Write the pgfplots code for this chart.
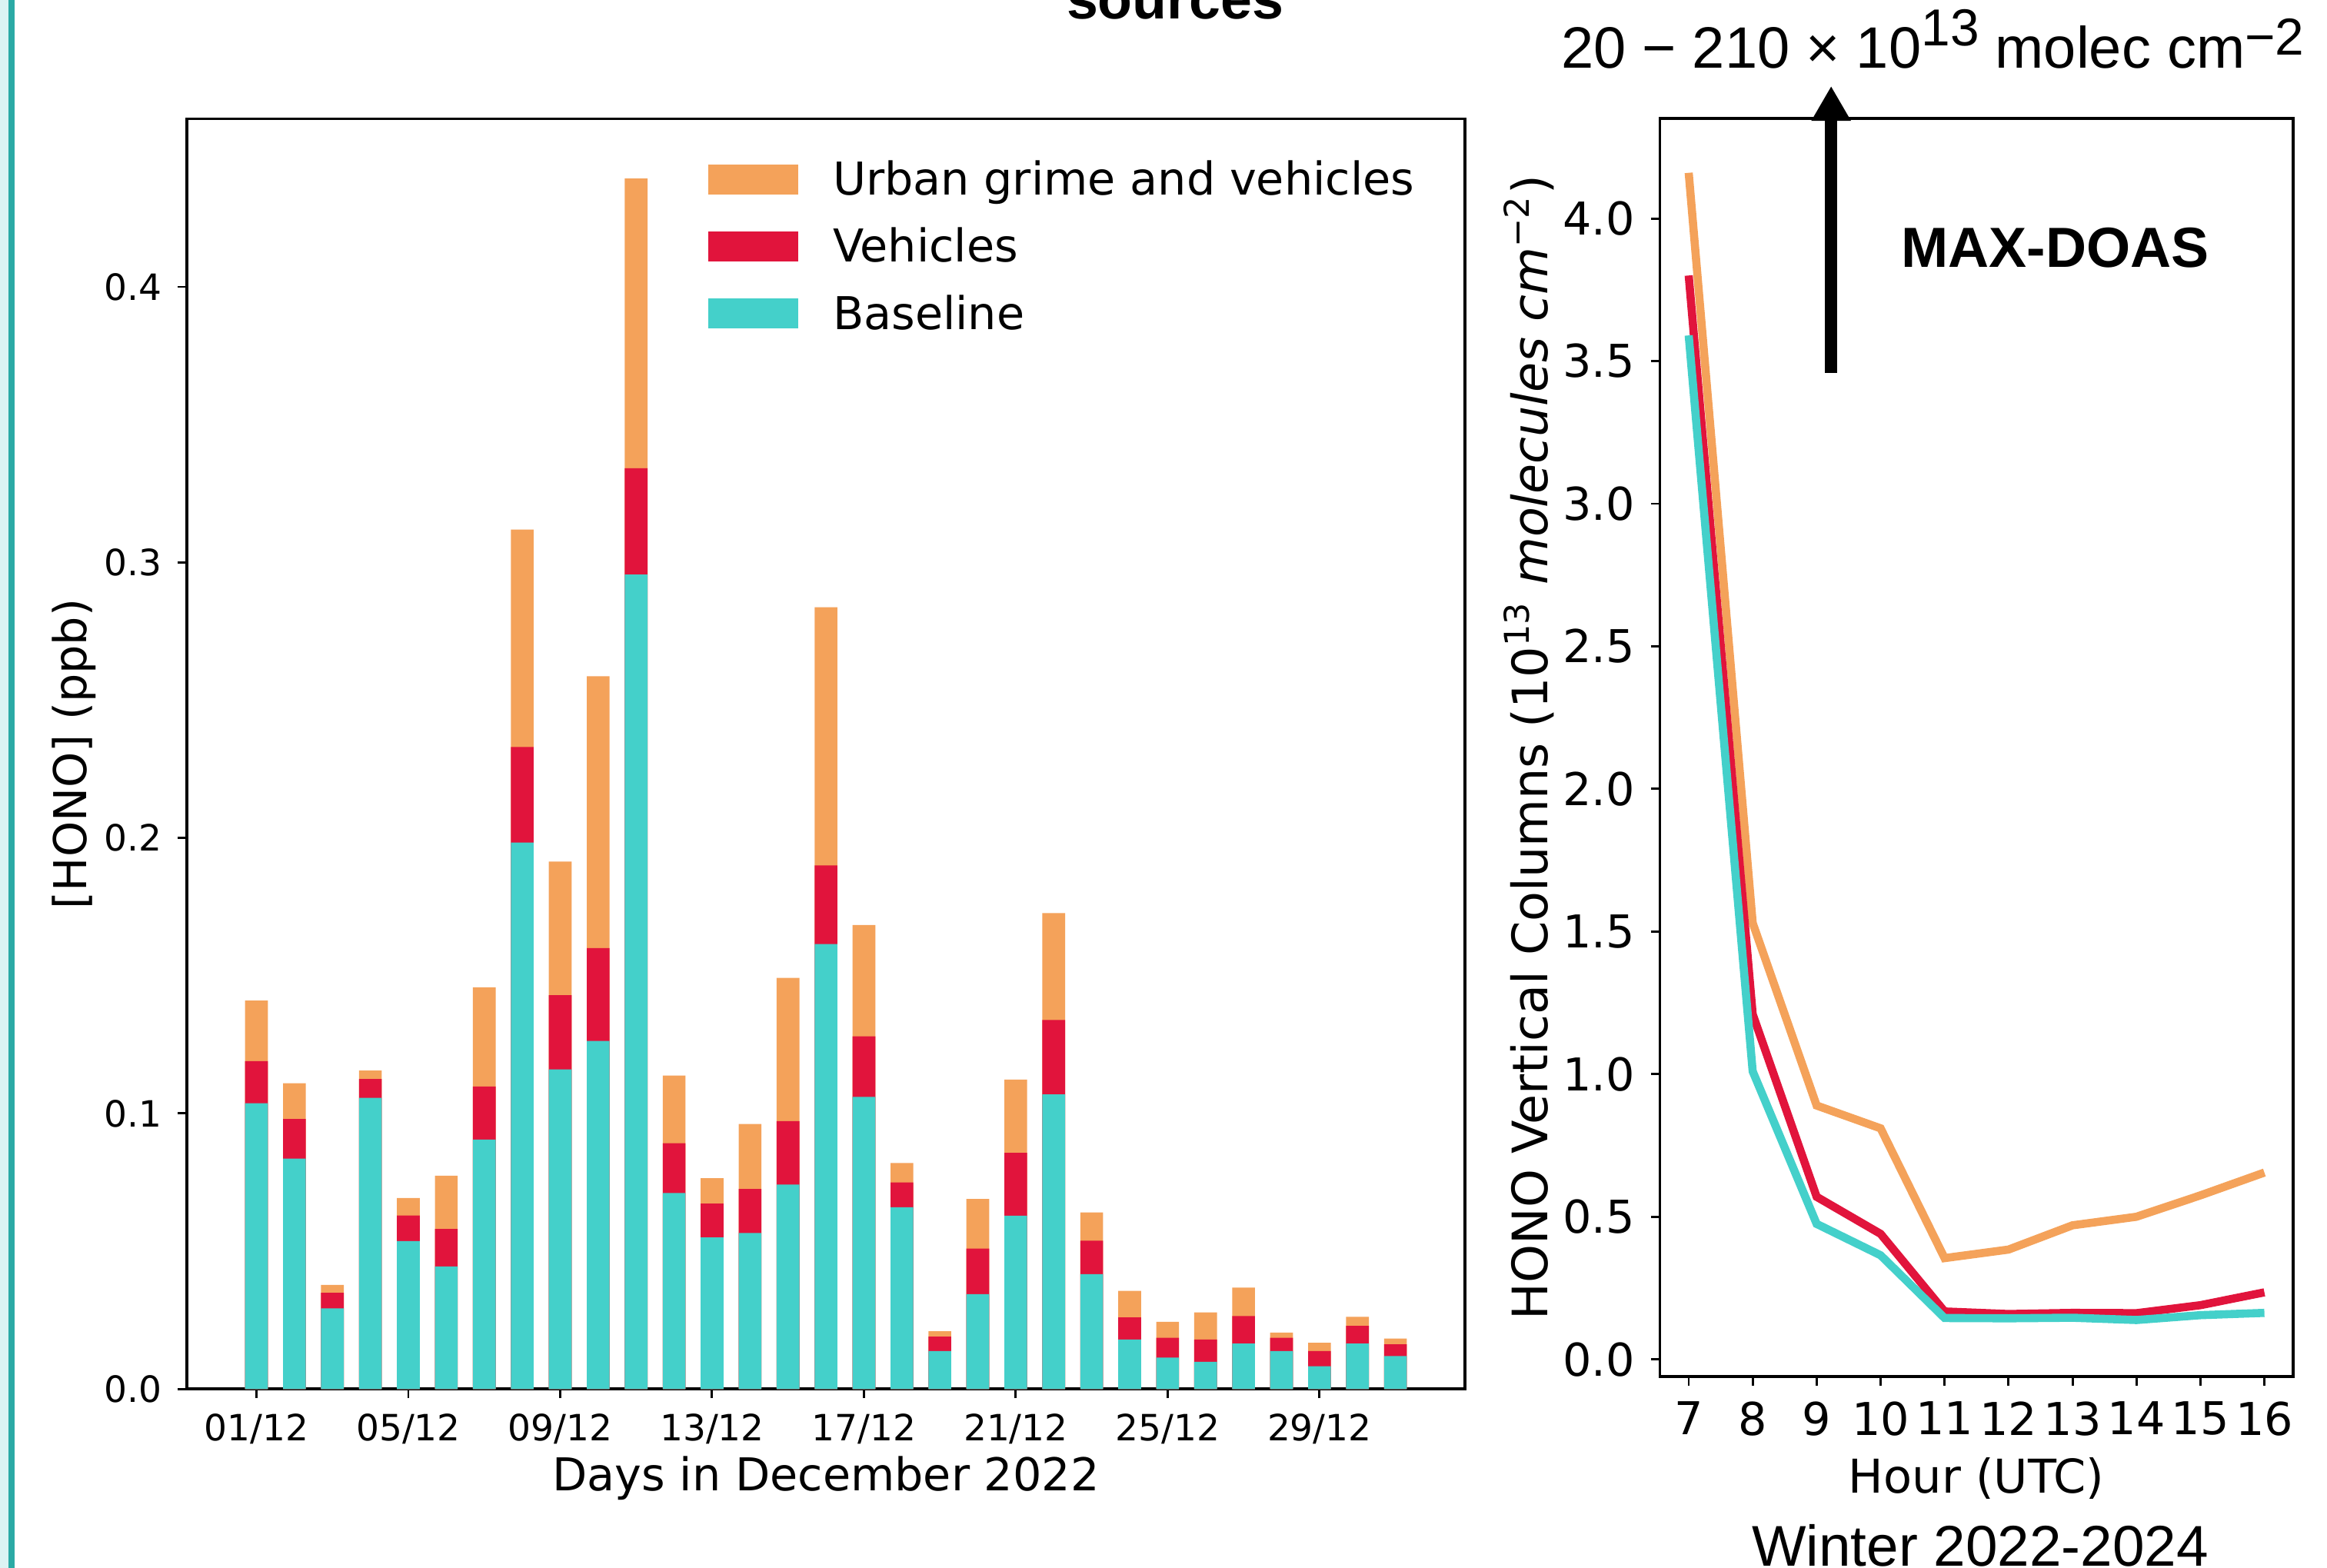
\documentclass[border=0pt]{standalone}
\usepackage{pgfplots}
\pgfplotsset{compat=1.18}
\usepackage{pgfplotstable}
\usepackage{fontspec}
\setmainfont{DejaVu Sans}
\newfontfamily\arialf{Liberation Sans}
\usetikzlibrary{arrows.meta}
\definecolor{cOr}{RGB}{244,162,90}
\definecolor{cRe}{RGB}{225,20,60}
\definecolor{cTe}{RGB}{68,208,202}
\definecolor{edgeL}{RGB}{220,243,243}
\definecolor{edgeD}{RGB}{43,170,165}

\pgfplotstableread{
day urban veh base
1 0.1410 0.1190 0.1037
2 0.1110 0.0980 0.0836
3 0.0378 0.0349 0.0293
4 0.1156 0.1125 0.1057
5 0.0693 0.0630 0.0537
6 0.0774 0.0581 0.0445
7 0.1458 0.1098 0.0905
8 0.3119 0.2330 0.1983
9 0.1914 0.1429 0.1160
10 0.2587 0.1600 0.1263
11 0.4393 0.3342 0.2956
12 0.1138 0.0892 0.0711
13 0.0765 0.0673 0.0550
14 0.0962 0.0726 0.0566
15 0.1492 0.0972 0.0742
16 0.2837 0.1900 0.1615
17 0.1684 0.1280 0.1060
18 0.0820 0.0750 0.0660
19 0.0210 0.0190 0.0138
20 0.0690 0.0510 0.0344
21 0.1123 0.0857 0.0629
22 0.1727 0.1339 0.1069
23 0.0641 0.0538 0.0417
24 0.0356 0.0260 0.0180
25 0.0244 0.0186 0.0114
26 0.0278 0.0180 0.0099
27 0.0368 0.0265 0.0165
28 0.0205 0.0186 0.0138
29 0.0168 0.0138 0.0083
30 0.0262 0.0229 0.0165
31 0.0183 0.0162 0.0120
}\bars

\pgfplotstableread{
hour urban veh base
7 4.16 3.80 3.59
8 1.53 1.21 1.01
9 0.89 0.57 0.475
10 0.81 0.44 0.365
11 0.355 0.168 0.145
12 0.385 0.159 0.144
13 0.47 0.163 0.146
14 0.50 0.162 0.138
15 0.575 0.19 0.155
16 0.655 0.235 0.163
}\lines

\pgfplotsset{
  mybar/.style={ybar, bar width=0.6, bar shift=0pt, draw=none,
    legend image code/.code={\fill (0pt,-3.3pt) rectangle (20pt,3.3pt);}},
}

\begin{document}
\begin{tikzpicture}
\path[use as bounding box] (0,0) rectangle (514.42pt,346.63pt);
\clip (0,0) rectangle (514.42pt,346.63pt);
\fill[edgeL] (0,0) rectangle (1.87pt,346.63pt);
\fill[edgeD] (1.87pt,0) rectangle (3.23pt,346.63pt);

\begin{axis}[
  at={(41.34pt,39.56pt)}, anchor=south west,
  scale only axis, width=282.5pt, height=280.8pt,
  xmin=-0.83, xmax=32.83, ymin=0, ymax=0.461,
  xtick={1,5,9,13,17,21,25,29},
  xticklabels={01/12,05/12,09/12,13/12,17/12,21/12,25/12,29/12},
  ytick={0,0.1,0.2,0.3,0.4},
  yticklabel style={/pgf/number format/.cd, fixed, fixed zerofill, precision=1},
  /pgf/number format/assume math mode=true,
  tick align=outside, major tick length=2pt,
  xtick pos=bottom, ytick pos=left,
  tick style={black, line width=0.5pt},
  ticklabel style={font=\fontsize{8}{9.6}\selectfont},
  axis line style={line width=0.6pt},
  xlabel={Days in December 2022}, ylabel={{[}HONO] (ppb)},
  label style={font=\fontsize{10}{12}\selectfont},
  xlabel style={at={(axis description cs:0.5,-0.0799)}, anchor=base},
  ylabel style={at={(axis description cs:-0.0881,0.5)}, anchor=center},
  legend cell align=left,
  legend style={draw=none, fill=none, inner sep=0pt,
    at={(0.407,0.969)}, anchor=north west,
    font=\fontsize{10}{12}\selectfont,
    nodes={inner sep=0pt, text height=8pt, text depth=1pt},
    column sep=7.6pt, row sep=5.8pt},
]
\addplot[mybar, fill=cOr] table[x=day,y=urban]{\bars};
\addlegendentry{Urban grime and vehicles}
\addplot[mybar, fill=cRe] table[x=day,y=veh]{\bars};
\addlegendentry{Vehicles}
\addplot[mybar, fill=cTe] table[x=day,y=base]{\bars};
\addlegendentry{Baseline}
\end{axis}

\begin{axis}[
  at={(366.95pt,42.33pt)}, anchor=south west,
  scale only axis, width=140pt, height=278.07pt,
  xmin=6.55, xmax=16.45, ymin=-0.06, ymax=4.35,
  xtick={7,8,9,10,11,12,13,14,15,16},
  ytick={0,0.5,1,1.5,2,2.5,3,3.5,4},
  yticklabel style={/pgf/number format/.cd, fixed, fixed zerofill, precision=1},
  /pgf/number format/assume math mode=true,
  tick align=outside, major tick length=2pt,
  xtick pos=bottom, ytick pos=left,
  tick style={black, line width=0.5pt},
  ticklabel style={font=\fontsize{10}{12}\selectfont},
  axis line style={line width=0.6pt},
  xlabel={Hour (UTC)},
  ylabel={HONO Vertical Columns (10\textsuperscript{13} \textit{molecules cm}\textsuperscript{−2})},
  label style={font=\fontsize{10.3}{12}\selectfont},
  ylabel style={at={(axis description cs:-0.207,0.5)}, anchor=center, font=\fontsize{10.8}{12}\selectfont},
  xlabel style={at={(axis description cs:0.5,-0.0924)}, anchor=base},
]
\addplot[cOr, line width=1.8pt] table[x=hour,y=urban]{\lines};
\addplot[cRe, line width=1.8pt] table[x=hour,y=veh]{\lines};
\addplot[cTe, line width=1.8pt] table[x=hour,y=base]{\lines};
\end{axis}

\node[anchor=base west, font=\arialf\bfseries\fontsize{12.5}{15}\selectfont, inner sep=0pt] at (235.6pt,342.4pt) {sources};
\node[anchor=base west, font=\arialf\fontsize{12.9}{15}\selectfont, inner sep=0pt] at (344.9pt,331.5pt)
  {20 − 210 × 10{\fontsize{11.5}{13}\selectfont\raisebox{5pt}{13}} molec cm{\fontsize{11.5}{13}\selectfont\raisebox{3pt}{−2}}};
\draw[line width=2.8pt, -{Triangle[width=8.2pt,length=7.7pt]}] (404.8pt,264.2pt) -- (404.8pt,327.6pt);
\node[anchor=base west, font=\arialf\bfseries\fontsize{12.5}{15}\selectfont, inner sep=0pt] at (420.1pt,287.5pt) {MAX-DOAS};
\node[anchor=base west, font=\arialf\fontsize{12.7}{15}\selectfont, inner sep=0pt] at (387.1pt,0.5pt) {Winter 2022-2024};
\end{tikzpicture}
\end{document}
